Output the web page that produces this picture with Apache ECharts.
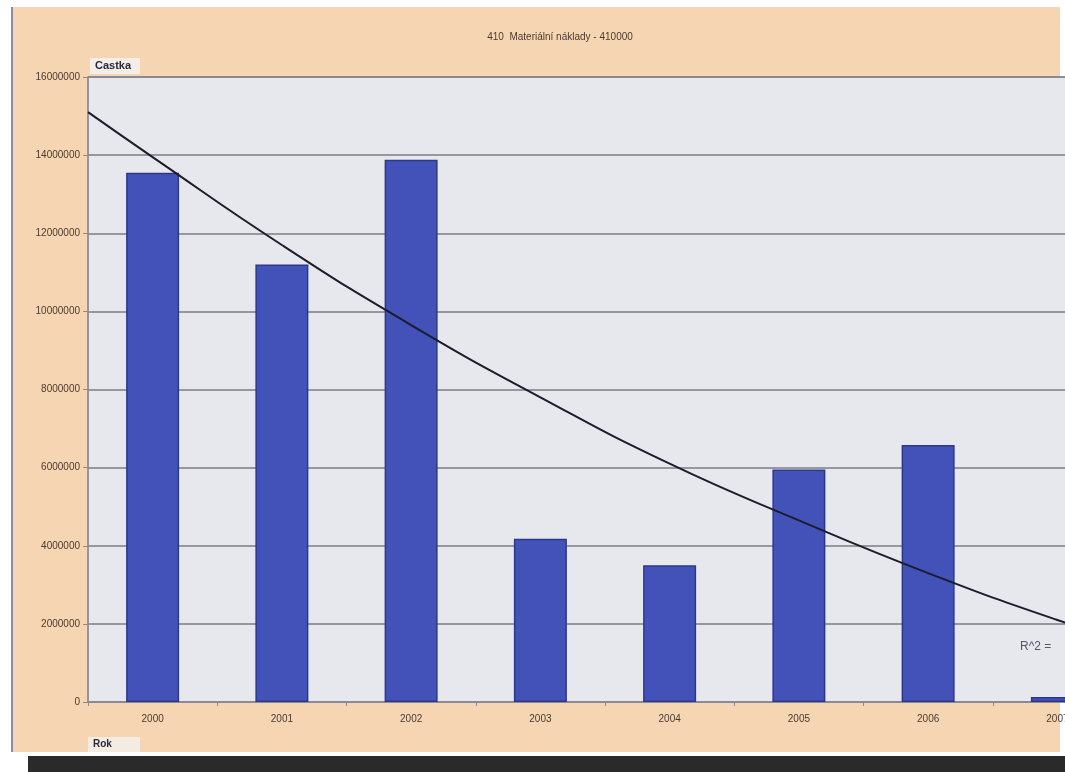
<!DOCTYPE html>
<html><head><meta charset="utf-8">
<script src="https://cdn.jsdelivr.net/npm/echarts@6/dist/echarts.min.js"></script>
<style>html,body{margin:0;padding:0;background:#fff}#c{width:1065px;height:772px}</style>
</head><body><div id="c"></div>
<script>
const years = ['2000','2001','2002','2003','2004','2005','2006','2007'];
const amounts = [13550000, 11200000, 13880000, 4180000, 3500000, 5950000, 6580000, 130000];
const trendX = [-0.5, 0, 1, 2, 3, 4, 5, 6, 7, 7.5];
const trendY = [15100000, 13950000, 11700000, 9650000, 7800000, 6100000, 4650000, 3300000, 2100000, 1600000];
const yTicks = [0, 2000000, 4000000, 6000000, 8000000, 10000000, 12000000, 14000000, 16000000];

const chart = echarts.init(document.getElementById('c'));
const F = 'Liberation Sans, Arial, sans-serif';
chart.setOption({
  backgroundColor: '#ffffff',
  animation: false,
  graphic: [
    {type:'rect', z:-10, shape:{x:12,y:7,width:1048,height:745}, style:{fill:'#f6d6b2'}},
    {type:'line', z:-9, shape:{x1:12,y1:7,x2:12,y2:752}, style:{stroke:'#8e8aa8',lineWidth:2}},
    {type:'rect', z:-9, shape:{x:28,y:756,width:1037,height:16}, style:{fill:'#2a2a2a'}},
    {type:'rect', z:5, shape:{x:90,y:58,width:50,height:16}, style:{fill:'#f3efe8'}},
    {type:'text', z:6, left:95, top:60, style:{text:'Castka', fill:'#2a2a3a', font:'bold 11px '+F}},
    {type:'rect', z:5, shape:{x:88,y:737,width:52,height:15}, style:{fill:'#f3ece2'}},
    {type:'text', z:6, left:93, top:739, style:{text:'Rok', fill:'#2a2a3a', font:'bold 10px '+F}},
    {type:'text', z:6, left:1020, top:641, style:{text:'R^2 =', fill:'#55556a', font:'12px '+F}}
  ],
  title: {
    text: '410  Materiální náklady - 410000',
    left: 555, top: 27, textAlign: 'center',
    textStyle: {fontSize: 10, fontWeight: 'normal', color: '#4a3a2e', fontFamily: F}
  },
  grid: {left: 88, top: 77, width: 1034, height: 625, show: true, outerBoundsMode: 'none',
         containLabel: false,
         backgroundColor: '#e7e7ee', borderColor: '#8a8a96', borderWidth: 1},
  xAxis: [
    {type: 'category', data: years, gridIndex: 0,
     axisLine: {lineStyle: {color: '#8a8a96', width: 1.5}},
     axisTick: {show: true, alignWithLabel: false, length: 4, lineStyle: {color: '#8a8a96'}},
     axisLabel: {color: '#4a3a2e', fontSize: 10, fontFamily: F, margin: 12}},
    {type: 'value', min: -0.5, max: 7.5, gridIndex: 0, show: false}
  ],
  yAxis: {
    type: 'value', min: 0, max: 16000000, interval: 2000000,
    axisLine: {show: true, onZero: false, lineStyle: {color: '#8a8a96', width: 1.5}},
    axisTick: {show: true, length: 5, lineStyle: {color: '#8a8a96'}},
    axisLabel: {color: '#4a3a2e', fontSize: 10, fontFamily: F, margin: 8,
                formatter: v => yTicks.includes(v) ? String(v) : ''},
    splitLine: {show: true, lineStyle: {color: '#7c7c86', width: 1.5}}
  },
  series: [
    {type: 'bar', data: amounts, xAxisIndex: 0, barWidth: '41%',
     itemStyle: {color: '#4352b8', borderColor: '#2c3888', borderWidth: 1.5}},
    {type: 'line', data: trendX.map((x, i) => [x, trendY[i]]), xAxisIndex: 1,
     smooth: true, symbol: 'none', z: 5,
     lineStyle: {color: '#1c1c2c', width: 2}}
  ]
});
</script></body></html>
